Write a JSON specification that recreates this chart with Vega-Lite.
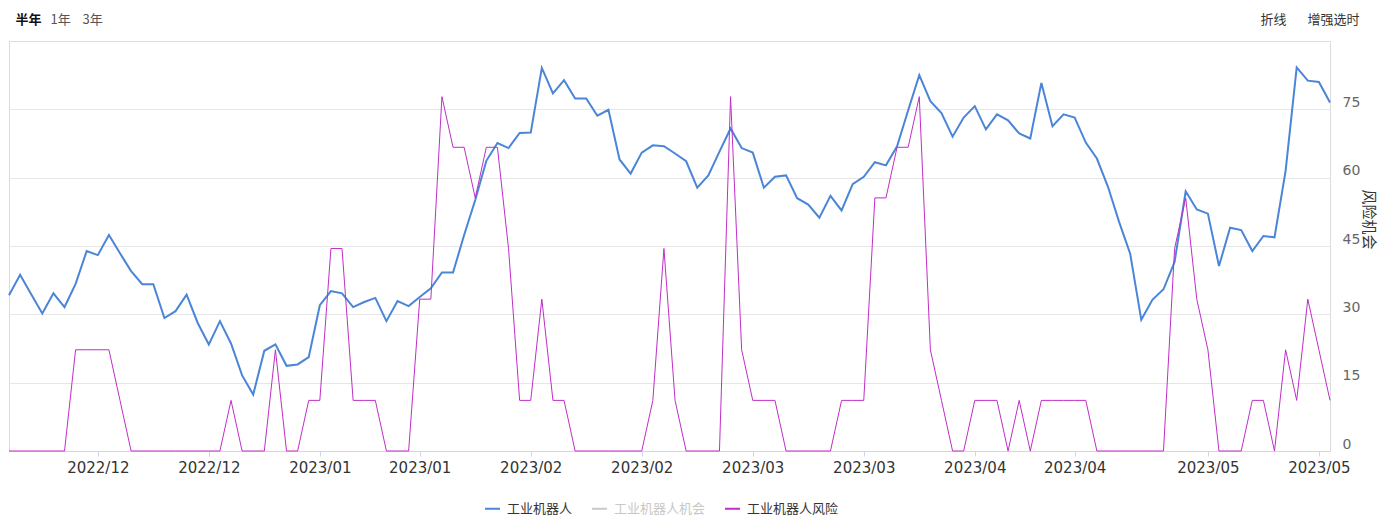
{
  "$schema": "https://vega.github.io/schema/vega-lite/v6.json",
  "width": 1321,
  "height": 410,
  "autosize": {"type": "none"},
  "padding": {"left": 9, "top": 41, "right": 51, "bottom": 72},
  "background": "white",
  "config": {
    "view": {"stroke": "#dcdcdc", "strokeWidth": 1},
    "font": "Noto Sans CJK SC"
  },
  "data": {
    "values": [
      {"d": "2022-11-28", "工业机器人": 34.2, "工业机器人风险": 0},
      {"d": "2022-11-29", "工业机器人": 38.7, "工业机器人风险": 0},
      {"d": "2022-11-30", "工业机器人": 34.4, "工业机器人风险": 0},
      {"d": "2022-12-01", "工业机器人": 30.2, "工业机器人风险": 0},
      {"d": "2022-12-02", "工业机器人": 34.6, "工业机器人风险": 0},
      {"d": "2022-12-05", "工业机器人": 31.6, "工业机器人风险": 0},
      {"d": "2022-12-06", "工业机器人": 36.7, "工业机器人风险": 22.22},
      {"d": "2022-12-07", "工业机器人": 43.9, "工业机器人风险": 22.22},
      {"d": "2022-12-08", "工业机器人": 43.0, "工业机器人风险": 22.22},
      {"d": "2022-12-09", "工业机器人": 47.4, "工业机器人风险": 22.22},
      {"d": "2022-12-12", "工业机器人": 43.4, "工业机器人风险": 11.11},
      {"d": "2022-12-13", "工业机器人": 39.5, "工业机器人风险": 0},
      {"d": "2022-12-14", "工业机器人": 36.6, "工业机器人风险": 0},
      {"d": "2022-12-15", "工业机器人": 36.6, "工业机器人风险": 0},
      {"d": "2022-12-16", "工业机器人": 29.2, "工业机器人风险": 0},
      {"d": "2022-12-19", "工业机器人": 30.7, "工业机器人风险": 0},
      {"d": "2022-12-20", "工业机器人": 34.3, "工业机器人风险": 0},
      {"d": "2022-12-21", "工业机器人": 28.1, "工业机器人风险": 0},
      {"d": "2022-12-22", "工业机器人": 23.4, "工业机器人风险": 0},
      {"d": "2022-12-23", "工业机器人": 28.5, "工业机器人风险": 0},
      {"d": "2022-12-26", "工业机器人": 23.6, "工业机器人风险": 11.11},
      {"d": "2022-12-27", "工业机器人": 16.6, "工业机器人风险": 0},
      {"d": "2022-12-28", "工业机器人": 12.4, "工业机器人风险": 0},
      {"d": "2022-12-29", "工业机器人": 22.0, "工业机器人风险": 0},
      {"d": "2022-12-30", "工业机器人": 23.4, "工业机器人风险": 22.22},
      {"d": "2023-01-03", "工业机器人": 18.7, "工业机器人风险": 0},
      {"d": "2023-01-04", "工业机器人": 19.0, "工业机器人风险": 0},
      {"d": "2023-01-05", "工业机器人": 20.6, "工业机器人风险": 11.11},
      {"d": "2023-01-06", "工业机器人": 32.0, "工业机器人风险": 11.11},
      {"d": "2023-01-09", "工业机器人": 35.1, "工业机器人风险": 44.44},
      {"d": "2023-01-10", "工业机器人": 34.6, "工业机器人风险": 44.44},
      {"d": "2023-01-11", "工业机器人": 31.6, "工业机器人风险": 11.11},
      {"d": "2023-01-12", "工业机器人": 32.7, "工业机器人风险": 11.11},
      {"d": "2023-01-13", "工业机器人": 33.6, "工业机器人风险": 11.11},
      {"d": "2023-01-16", "工业机器人": 28.5, "工业机器人风险": 0},
      {"d": "2023-01-17", "工业机器人": 32.9, "工业机器人风险": 0},
      {"d": "2023-01-18", "工业机器人": 31.8, "工业机器人风险": 0},
      {"d": "2023-01-19", "工业机器人": 33.8, "工业机器人风险": 33.33},
      {"d": "2023-01-20", "工业机器人": 35.7, "工业机器人风险": 33.33},
      {"d": "2023-01-30", "工业机器人": 39.2, "工业机器人风险": 77.78},
      {"d": "2023-01-31", "工业机器人": 39.2, "工业机器人风险": 66.67},
      {"d": "2023-02-01", "工业机器人": 47.4, "工业机器人风险": 66.67},
      {"d": "2023-02-02", "工业机器人": 55.1, "工业机器人风险": 55.56},
      {"d": "2023-02-03", "工业机器人": 63.7, "工业机器人风险": 66.67},
      {"d": "2023-02-06", "工业机器人": 67.6, "工业机器人风险": 66.67},
      {"d": "2023-02-07", "工业机器人": 66.5, "工业机器人风险": 44.44},
      {"d": "2023-02-08", "工业机器人": 69.8, "工业机器人风险": 11.11},
      {"d": "2023-02-09", "工业机器人": 69.9, "工业机器人风险": 11.11},
      {"d": "2023-02-10", "工业机器人": 84.1, "工业机器人风险": 33.33},
      {"d": "2023-02-13", "工业机器人": 78.5, "工业机器人风险": 11.11},
      {"d": "2023-02-14", "工业机器人": 81.4, "工业机器人风险": 11.11},
      {"d": "2023-02-15", "工业机器人": 77.4, "工业机器人风险": 0},
      {"d": "2023-02-16", "工业机器人": 77.4, "工业机器人风险": 0},
      {"d": "2023-02-17", "工业机器人": 73.6, "工业机器人风险": 0},
      {"d": "2023-02-20", "工业机器人": 74.9, "工业机器人风险": 0},
      {"d": "2023-02-21", "工业机器人": 64.0, "工业机器人风险": 0},
      {"d": "2023-02-22", "工业机器人": 60.9, "工业机器人风险": 0},
      {"d": "2023-02-23", "工业机器人": 65.5, "工业机器人风险": 0},
      {"d": "2023-02-24", "工业机器人": 67.1, "工业机器人风险": 11.11},
      {"d": "2023-02-27", "工业机器人": 66.9, "工业机器人风险": 44.44},
      {"d": "2023-02-28", "工业机器人": 65.3, "工业机器人风险": 11.11},
      {"d": "2023-03-01", "工业机器人": 63.6, "工业机器人风险": 0},
      {"d": "2023-03-02", "工业机器人": 57.8, "工业机器人风险": 0},
      {"d": "2023-03-03", "工业机器人": 60.5, "工业机器人风险": 0},
      {"d": "2023-03-06", "工业机器人": 65.7, "工业机器人风险": 0},
      {"d": "2023-03-07", "工业机器人": 70.8, "工业机器人风险": 77.78},
      {"d": "2023-03-08", "工业机器人": 66.5, "工业机器人风险": 22.22},
      {"d": "2023-03-09", "工业机器人": 65.5, "工业机器人风险": 11.11},
      {"d": "2023-03-10", "工业机器人": 57.8, "工业机器人风险": 11.11},
      {"d": "2023-03-13", "工业机器人": 60.2, "工业机器人风险": 11.11},
      {"d": "2023-03-14", "工业机器人": 60.5, "工业机器人风险": 0},
      {"d": "2023-03-15", "工业机器人": 55.5, "工业机器人风险": 0},
      {"d": "2023-03-16", "工业机器人": 54.1, "工业机器人风险": 0},
      {"d": "2023-03-17", "工业机器人": 51.2, "工业机器人风险": 0},
      {"d": "2023-03-20", "工业机器人": 56.0, "工业机器人风险": 0},
      {"d": "2023-03-21", "工业机器人": 52.8, "工业机器人风险": 11.11},
      {"d": "2023-03-22", "工业机器人": 58.6, "工业机器人风险": 11.11},
      {"d": "2023-03-23", "工业机器人": 60.2, "工业机器人风险": 11.11},
      {"d": "2023-03-24", "工业机器人": 63.4, "工业机器人风险": 55.56},
      {"d": "2023-03-27", "工业机器人": 62.7, "工业机器人风险": 55.56},
      {"d": "2023-03-28", "工业机器人": 66.9, "工业机器人风险": 66.67},
      {"d": "2023-03-29", "工业机器人": 74.8, "工业机器人风险": 66.67},
      {"d": "2023-03-30", "工业机器人": 82.5, "工业机器人风险": 77.78},
      {"d": "2023-03-31", "工业机器人": 76.8, "工业机器人风险": 22.22},
      {"d": "2023-04-03", "工业机器人": 74.2, "工业机器人风险": 11.11},
      {"d": "2023-04-04", "工业机器人": 69.0, "工业机器人风险": 0},
      {"d": "2023-04-06", "工业机器人": 73.2, "工业机器人风险": 0},
      {"d": "2023-04-07", "工业机器人": 75.7, "工业机器人风险": 11.11},
      {"d": "2023-04-10", "工业机器人": 70.6, "工业机器人风险": 11.11},
      {"d": "2023-04-11", "工业机器人": 73.9, "工业机器人风险": 11.11},
      {"d": "2023-04-12", "工业机器人": 72.6, "工业机器人风险": 0},
      {"d": "2023-04-13", "工业机器人": 69.7, "工业机器人风险": 11.11},
      {"d": "2023-04-14", "工业机器人": 68.6, "工业机器人风险": 0},
      {"d": "2023-04-17", "工业机器人": 80.8, "工业机器人风险": 11.11},
      {"d": "2023-04-18", "工业机器人": 71.3, "工业机器人风险": 11.11},
      {"d": "2023-04-19", "工业机器人": 73.9, "工业机器人风险": 11.11},
      {"d": "2023-04-20", "工业机器人": 73.2, "工业机器人风险": 11.11},
      {"d": "2023-04-21", "工业机器人": 67.7, "工业机器人风险": 11.11},
      {"d": "2023-04-24", "工业机器人": 64.2, "工业机器人风险": 0},
      {"d": "2023-04-25", "工业机器人": 58.0, "工业机器人风险": 0},
      {"d": "2023-04-26", "工业机器人": 50.3, "工业机器人风险": 0},
      {"d": "2023-04-27", "工业机器人": 43.3, "工业机器人风险": 0},
      {"d": "2023-04-28", "工业机器人": 28.8, "工业机器人风险": 0},
      {"d": "2023-05-04", "工业机器人": 33.2, "工业机器人风险": 0},
      {"d": "2023-05-05", "工业机器人": 35.5, "工业机器人风险": 0},
      {"d": "2023-05-08", "工业机器人": 41.5, "工业机器人风险": 44.44},
      {"d": "2023-05-09", "工业机器人": 57.0, "工业机器人风险": 55.56},
      {"d": "2023-05-10", "工业机器人": 53.0, "工业机器人风险": 33.33},
      {"d": "2023-05-11", "工业机器人": 52.1, "工业机器人风险": 22.22},
      {"d": "2023-05-12", "工业机器人": 40.6, "工业机器人风险": 0},
      {"d": "2023-05-15", "工业机器人": 49.0, "工业机器人风险": 0},
      {"d": "2023-05-16", "工业机器人": 48.5, "工业机器人风险": 0},
      {"d": "2023-05-17", "工业机器人": 43.9, "工业机器人风险": 11.11},
      {"d": "2023-05-18", "工业机器人": 47.2, "工业机器人风险": 11.11},
      {"d": "2023-05-19", "工业机器人": 46.9, "工业机器人风险": 0},
      {"d": "2023-05-22", "工业机器人": 61.5, "工业机器人风险": 22.22},
      {"d": "2023-05-23", "工业机器人": 84.2, "工业机器人风险": 11.11},
      {"d": "2023-05-24", "工业机器人": 81.3, "工业机器人风险": 33.33},
      {"d": "2023-05-25", "工业机器人": 81.0, "工业机器人风险": 22.22},
      {"d": "2023-05-26", "工业机器人": 76.5, "工业机器人风险": 11.11}
    ]
  },
  "transform": [
    {"fold": ["工业机器人", "工业机器人风险"], "as": ["series", "value"]}
  ],
  "layer": [
    {
      "mark": {"type": "line"},
      "encoding": {
        "x": {
          "field": "d",
          "type": "ordinal",
          "scale": {"type": "point", "padding": 0},
          "axis": {
            "orient": "bottom",
            "title": null,
            "values": ["2022-12-08", "2022-12-22", "2023-01-06", "2023-01-19", "2023-02-09", "2023-02-23", "2023-03-09", "2023-03-23", "2023-04-07", "2023-04-20", "2023-05-11", "2023-05-25"],
            "labelExpr": "replace(slice(datum.value, 0, 7), '-', '/')",
            "labelAngle": 0,
            "labelOverlap": false,
            "labelFlush": false,
            "labelFont": "DejaVu Sans",
            "labelFontSize": 15,
            "labelColor": "#333333",
            "labelPadding": 4,
            "tickSize": 5,
            "tickColor": "#ccd6eb",
            "domainColor": "#ccd6eb",
            "grid": false
          }
        },
        "y": {
          "field": "value",
          "type": "quantitative",
          "scale": {"domain": [0, 90], "nice": false, "zero": true},
          "axis": {
            "orient": "right",
            "values": [0, 15, 30, 45, 60, 75],
            "title": "风险机会",
            "titleFont": "Noto Sans CJK SC",
            "titleFontSize": 15,
            "titleFontWeight": "normal",
            "titleColor": "#333333",
            "titleAngle": 90,
            "titleX": 38,
            "titleY": 178,
            "titleAlign": "center",
            "titleBaseline": "middle",
            "grid": true,
            "gridColor": "#e6e6e6",
            "domain": false,
            "ticks": false,
            "labelPadding": 12,
            "labelBaseline": "bottom",
            "labelFont": "DejaVu Sans",
            "labelFontSize": 14,
            "labelColor": "#666666"
          }
        },
        "color": {
          "field": "series",
          "type": "nominal",
          "scale": {
            "domain": ["工业机器人", "工业机器人机会", "工业机器人风险"],
            "range": ["#4a85d8", "#c8c8c8", "#c02dc8"]
          },
          "legend": {
            "orient": "none",
            "legendX": 475,
            "legendY": 459,
            "direction": "horizontal",
            "title": null,
            "symbolType": "stroke",
            "symbolSize": 225,
            "symbolStrokeWidth": 2,
            "labelFont": "Noto Sans CJK SC",
            "labelFontSize": 13,
            "labelColor": {"expr": "datum.label == '工业机器人机会' ? '#c8c8c8' : '#333333'"},
            "labelOffset": 6,
            "columnPadding": 15
          }
        },
        "strokeWidth": {
          "condition": {"test": "datum.series == '工业机器人'", "value": 2},
          "value": 1
        }
      }
    },
    {
      "mark": {"type": "point", "opacity": 0},
      "encoding": {
        "x": {
          "field": "d",
          "type": "ordinal",
          "axis": {
            "orient": "top",
            "title": "折线",
            "labels": false,
            "ticks": false,
            "domain": false,
            "grid": false,
            "titleFont": "Noto Sans CJK SC",
            "titleFontSize": 13,
            "titleFontWeight": "normal",
            "titleColor": "#333333",
            "titleX": 1264,
            "titleY": -22,
            "titleAlign": "center",
            "titleBaseline": "middle"
          }
        },
        "y": {
          "field": "value",
          "type": "quantitative",
          "axis": {
            "orient": "left",
            "title": "半年",
            "labels": false,
            "ticks": false,
            "domain": false,
            "grid": false,
            "titleAngle": 0,
            "titleFont": "Noto Sans CJK SC",
            "titleFontSize": 13,
            "titleFontWeight": "bold",
            "titleColor": "#111111",
            "titleX": 6,
            "titleY": -22,
            "titleAlign": "left",
            "titleBaseline": "middle"
          }
        }
      }
    },
    {
      "mark": {"type": "point", "opacity": 0},
      "encoding": {
        "x": {
          "field": "d",
          "type": "ordinal",
          "axis": {
            "orient": "top",
            "title": "增强选时",
            "labels": false,
            "ticks": false,
            "domain": false,
            "grid": false,
            "titleFont": "Noto Sans CJK SC",
            "titleFontSize": 13,
            "titleFontWeight": "normal",
            "titleColor": "#333333",
            "titleX": 1324,
            "titleY": -22,
            "titleAlign": "center",
            "titleBaseline": "middle"
          }
        },
        "y": {
          "field": "value",
          "type": "quantitative",
          "axis": {
            "orient": "left",
            "title": "1年",
            "labels": false,
            "ticks": false,
            "domain": false,
            "grid": false,
            "titleAngle": 0,
            "titleFont": "Noto Sans CJK SC",
            "titleFontSize": 13,
            "titleFontWeight": "normal",
            "titleColor": "#555555",
            "titleX": 41,
            "titleY": -22,
            "titleAlign": "left",
            "titleBaseline": "middle"
          }
        }
      }
    },
    {
      "mark": {"type": "point", "opacity": 0},
      "encoding": {
        "y": {
          "field": "value",
          "type": "quantitative",
          "axis": {
            "orient": "left",
            "title": "3年",
            "labels": false,
            "ticks": false,
            "domain": false,
            "grid": false,
            "titleAngle": 0,
            "titleFont": "Noto Sans CJK SC",
            "titleFontSize": 13,
            "titleFontWeight": "normal",
            "titleColor": "#555555",
            "titleX": 73,
            "titleY": -22,
            "titleAlign": "left",
            "titleBaseline": "middle"
          }
        }
      }
    }
  ],
  "resolve": {"axis": {"x": "independent", "y": "independent"}}
}
